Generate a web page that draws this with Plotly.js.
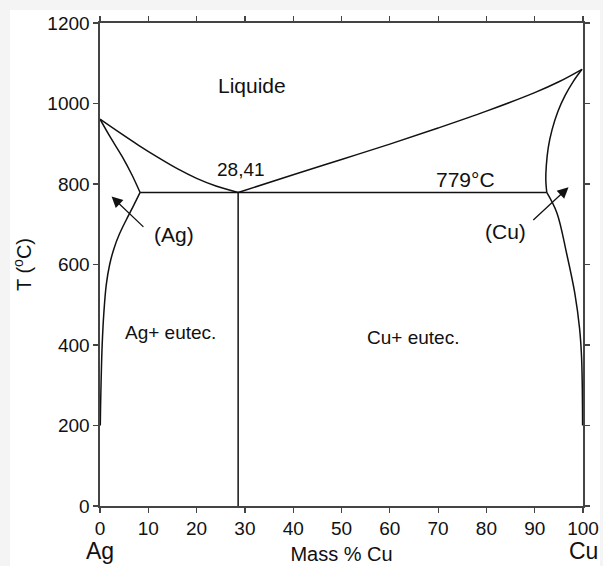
<!DOCTYPE html>
<html>
<head>
<meta charset="utf-8">
<script src="https://cdn.plot.ly/plotly-3.0.1.min.js"></script>
<style>
  html, body { margin: 0; padding: 0; background: #f4f4f4; }
  #bgwhite { position: absolute; left: 10px; top: 10px; width: 590px; height: 556px; background: #ffffff; }
  #chart { position: absolute; left: 0; top: 0; width: 603px; height: 566px; }
</style>
</head>
<body>
<div id="bgwhite"></div>
<div id="chart"></div>
<script>
// Ag-Cu phase diagram (Mass % Cu vs temperature °C)
const liquidusAgX = [0, 4, 8, 12, 16, 20, 24, 28.6];
const liquidusAgT = [961, 928, 896, 866, 838, 814, 795, 779];

const solidusAgX = [0, 2.2, 4.6, 6.6, 8.3];
const solidusAgT = [961, 915, 868, 823, 779];

const solvusAgX = [8.3, 6.9, 5.4, 4.0, 2.9, 2.0, 1.3, 0.8, 0.45, 0.25, 0.12, 0.06];
const solvusAgT = [779, 745, 710, 675, 640, 600, 550, 480, 400, 320, 250, 200];

const liquidusCuX = [28.6, 40, 50, 60, 70, 80, 90, 95, 99.8];
const liquidusCuT = [779, 823, 861, 899, 939, 981, 1027, 1054, 1085];

const solidusCuX = [99.8, 98.0, 96.3, 94.8, 93.6, 92.8, 92.4, 92.3, 92.5];
const solidusCuT = [1085, 1055, 1020, 980, 935, 890, 845, 810, 779];

const solvusCuX = [92.5, 94.6, 96.6, 98.3, 99.3, 99.7, 99.85, 99.9, 99.92];
const solvusCuT = [779, 728, 628, 529, 440, 371, 297, 237, 200];

const eutecticX = [8.3, 92.5];
const eutecticT = [779, 779];

const eutecticCompX = [28.6, 28.6];
const eutecticCompT = [779, 0];

const xTicks = [0, 10, 20, 30, 40, 50, 60, 70, 80, 90, 100];
const yTicks = [0, 200, 400, 600, 800, 1000, 1200];

const FONT = 'Liberation Sans, Arial, sans-serif';
const lineStyle = {color: '#111111', width: 1.5};

function curve(x, y, shape) {
  return {x: x, y: y, type: 'scatter', mode: 'lines',
          line: Object.assign({shape: shape || 'spline', smoothing: 1}, lineStyle),
          hoverinfo: 'skip', showlegend: false};
}

const data = [
  curve(liquidusAgX, liquidusAgT),
  curve(solidusAgX, solidusAgT),
  curve(solvusAgX, solvusAgT),
  curve(liquidusCuX, liquidusCuT),
  curve(solidusCuX, solidusCuT),
  curve(solvusCuX, solvusCuT),
  curve(eutecticX, eutecticT, 'linear'),
  curve(eutecticCompX, eutecticCompT, 'linear')
];

const txt = (x, y, text, size) => ({x: x, y: y, xref: 'x', yref: 'y', text: text, showarrow: false,
  font: {family: FONT, size: size || 19, color: '#111111'}});

const annotations = [
  txt(31.5, 1044, 'Liquide', 21),
  txt(29.2, 835, '28,41', 19),
  txt(75.6, 812, '779°C', 21),
  txt(15.3, 674, '(Ag)', 21),
  txt(84.0, 682, '(Cu)', 21),
  txt(14.6, 430, 'Ag+ eutec.', 19),
  txt(64.8, 418, 'Cu+ eutec.', 19),
  {x: 2.4, y: 769, ax: 9.3, ay: 690, xref: 'x', yref: 'y', axref: 'x', ayref: 'y',
   text: '', showarrow: true, arrowhead: 2, arrowsize: 1.7, arrowwidth: 1.3, arrowcolor: '#111111'},
  {x: 97.0, y: 792, ax: 89.4, ay: 707, xref: 'x', yref: 'y', axref: 'x', ayref: 'y',
   text: '', showarrow: true, arrowhead: 2, arrowsize: 1.7, arrowwidth: 1.3, arrowcolor: '#111111'},
  {x: 0, y: -0.093, xref: 'x', yref: 'paper', xanchor: 'center', yanchor: 'middle',
   text: 'Ag', showarrow: false, font: {family: FONT, size: 23, color: '#111111'}},
  {x: 100, y: -0.093, xref: 'x', yref: 'paper', xanchor: 'center', yanchor: 'middle',
   text: 'Cu', showarrow: false, font: {family: FONT, size: 23, color: '#111111'}}
];

const axisCommon = {
  showgrid: false, zeroline: false, showline: true, linecolor: '#444444', linewidth: 1.6,
  mirror: 'ticks', ticks: 'outside', ticklen: 5, tickwidth: 1.2, tickcolor: '#444444',
  tickfont: {family: FONT, size: 19, color: '#111111'}
};

const layout = {
  width: 603, height: 566,
  margin: {l: 100, r: 20, t: 23, b: 60},
  paper_bgcolor: 'rgba(0,0,0,0)', plot_bgcolor: '#ffffff',
  showlegend: false,
  xaxis: Object.assign({}, axisCommon, {
    range: [0, 100], tickmode: 'array', tickvals: xTicks, ticktext: xTicks.map(String),
    title: {text: 'Mass % Cu', font: {family: FONT, size: 20, color: '#111111'}, standoff: 8}
  }),
  yaxis: Object.assign({}, axisCommon, {
    range: [0, 1200], tickmode: 'array', tickvals: yTicks, ticktext: yTicks.map(String),
    title: {text: 'T (<sup>o</sup>C)', font: {family: FONT, size: 20, color: '#111111'}, standoff: 10}
  }),
  annotations: annotations
};

Plotly.newPlot('chart', data, layout, {staticPlot: true, displayModeBar: false});
</script>
</body>
</html>
